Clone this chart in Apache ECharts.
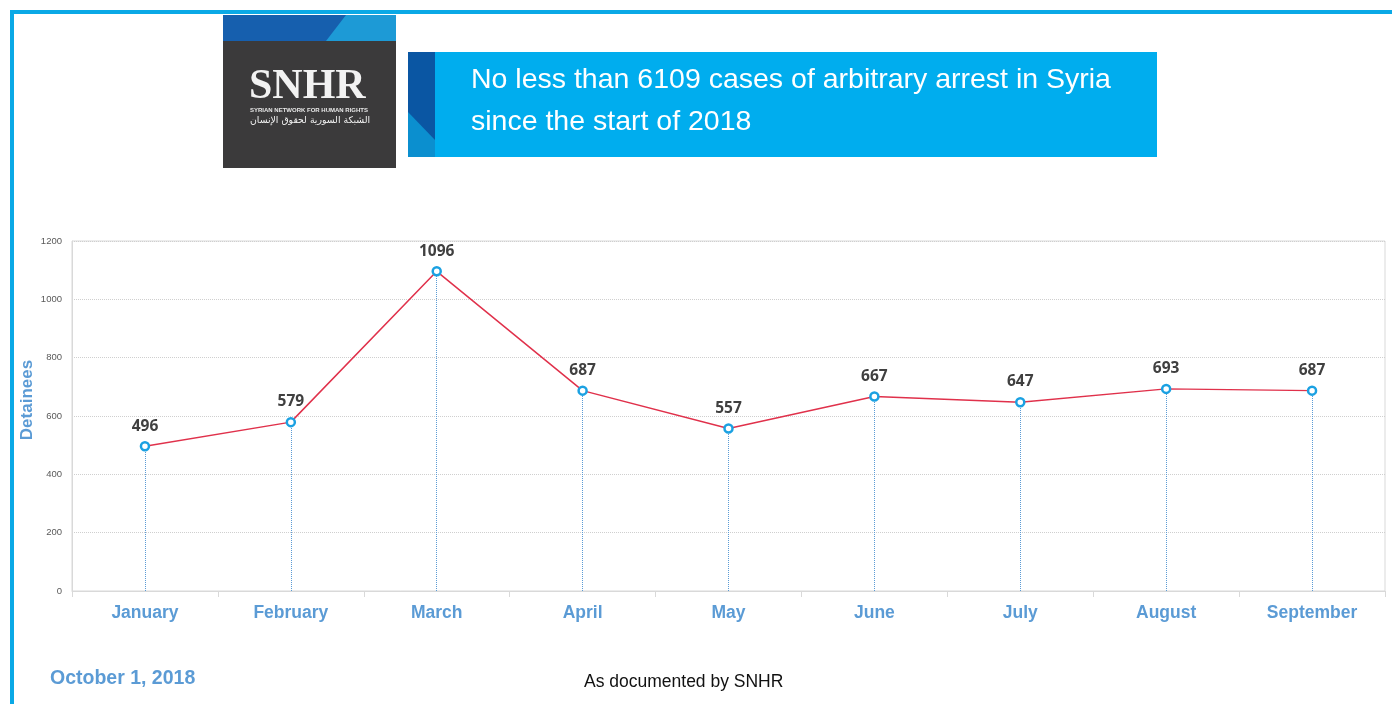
<!DOCTYPE html>
<html>
<head>
<meta charset="utf-8">
<script src="https://cdn.jsdelivr.net/npm/echarts@6/dist/echarts.min.js"></script>
<style>
  html, body { margin: 0; padding: 0; background: #fff; }
  #main { width: 1392px; height: 704px; }
</style>
</head>
<body>
<div id="main"></div>
<script>
// data
const months = ['January', 'February', 'March', 'April', 'May', 'June', 'July', 'August', 'September']
const detainees = [496, 579, 1096, 687, 557, 667, 647, 693, 687]
const yTicks = [0, 200, 400, 600, 800, 1000, 1200]

const title = ['No less than 6109 cases of arbitrary arrest in Syria', 'since the start of 2018']
const dateText = 'October 1, 2018'
const sourceText = 'As documented by SNHR'

let myChart = echarts.init(document.getElementById('main'))

// 虚线：从点垂直到横轴
let dropLines = detainees.map((v, i) => [{ coord: [months[i], 0] }, { coord: [months[i], v] }])

let option = {
  backgroundColor: '#fff',
  animation: false,
  grid: {
    left: 72,
    right: 7,
    top: 241,
    bottom: 113,
    show: true,
    borderColor: '#d9d9d9',
    borderWidth: 1,
  },
  xAxis: {
    type: 'category',
    data: months,
    boundaryGap: true,
    axisLine: { lineStyle: { color: '#d9d9d9' } },
    axisTick: { show: true, length: 6, lineStyle: { color: '#d9d9d9' } },
    axisLabel: {
      color: '#5b9bd5',
      fontSize: 17.5,
      fontWeight: 'bold',
      fontFamily: 'Liberation Sans',
      margin: 13,
    },
  },
  yAxis: {
    type: 'value',
    min: yTicks[0],
    max: yTicks[yTicks.length - 1],
    interval: 200,
    name: 'Detainees',
    nameLocation: 'middle',
    nameGap: 36,
    nameMoveOverlap: false,
    nameTextStyle: {
      color: '#5b9bd5',
      fontSize: 17,
      fontWeight: 'bold',
      fontFamily: 'Liberation Sans',
      padding: [0, 0, 0, 32],
    },
    axisLine: { show: true, lineStyle: { color: '#d9d9d9' } },
    axisTick: { show: false },
    axisLabel: {
      color: '#595959',
      fontSize: 9.5,
      fontFamily: 'Liberation Sans',
      margin: 10,
      formatter: (v) => String(v),
    },
    splitLine: { lineStyle: { type: 'dotted', color: '#cfcfcf' } },
  },
  series: [
    {
      type: 'line',
      data: detainees,
      symbol: 'circle',
      symbolSize: 8,
      lineStyle: { color: '#e0314b', width: 1.5 },
      itemStyle: { color: '#fff', borderColor: '#1ba1e2', borderWidth: 2.5 },
      label: {
        show: true,
        position: 'top',
        distance: 7,
        color: '#404040',
        fontSize: 15.5,
        fontWeight: 'bold',
        fontFamily: 'Open Sans',
      },
      markLine: {
        silent: true,
        symbol: 'none',
        label: { show: false },
        lineStyle: { type: 'dotted', color: '#5b9bd5', width: 1 },
        data: dropLines,
        z: 1,
      },
      z: 3,
    },
  ],
  graphic: [
    // 外框
    { type: 'rect', shape: { x: 10, y: 10, width: 1382, height: 4 }, style: { fill: '#0aa9e6' } },
    { type: 'rect', shape: { x: 10, y: 10, width: 4, height: 694 }, style: { fill: '#0aa9e6' } },
    // logo
    { type: 'rect', shape: { x: 223, y: 15, width: 173, height: 153 }, style: { fill: '#3b3a3b' } },
    { type: 'rect', shape: { x: 223, y: 15, width: 173, height: 26 }, style: { fill: '#165fae' } },
    { type: 'polygon', shape: { points: [[346, 15], [396, 15], [396, 41], [326, 41]] }, style: { fill: '#1d9ad6' } },
    {
      type: 'text', left: 249, top: 66,
      style: { text: 'SNHR', fill: '#f2f2f2', fontSize: 42, fontWeight: 'bold', fontFamily: 'Liberation Serif' },
    },
    {
      type: 'text', left: 250, top: 107,
      style: { text: 'SYRIAN NETWORK FOR HUMAN RIGHTS', fill: '#e8e8e8', fontSize: 6, fontWeight: 'bold', fontFamily: 'Liberation Sans' },
    },
    {
      type: 'text', left: 250, top: 116,
      style: { text: 'الشبكة السورية لحقوق الإنسان', fill: '#f2f2f2', fontSize: 9.3, fontFamily: 'DejaVu Sans' },
    },
    // 标题条
    { type: 'rect', shape: { x: 408, y: 52, width: 749, height: 105 }, style: { fill: '#00adee' } },
    { type: 'rect', shape: { x: 408, y: 52, width: 27, height: 105 }, style: { fill: '#0a56a3' } },
    { type: 'polygon', shape: { points: [[408, 112], [435, 140], [435, 157], [408, 157]] }, style: { fill: '#0b8fcf' } },
    {
      type: 'text', left: 471, top: 66,
      style: { text: title[0], fill: '#fff', fontSize: 28.5, fontFamily: 'Liberation Sans' },
    },
    {
      type: 'text', left: 471, top: 108,
      style: { text: title[1], fill: '#fff', fontSize: 28.5, fontFamily: 'Liberation Sans' },
    },
    // 页脚
    {
      type: 'text', left: 50, top: 669,
      style: { text: dateText, fill: '#5b9bd5', fontSize: 19.5, fontWeight: 'bold', fontFamily: 'Liberation Sans' },
    },
    {
      type: 'text', left: 584, top: 673,
      style: { text: sourceText, fill: '#111', fontSize: 17.5, fontFamily: 'Liberation Sans' },
    },
  ],
}

myChart.setOption(option)
</script>
</body>
</html>
